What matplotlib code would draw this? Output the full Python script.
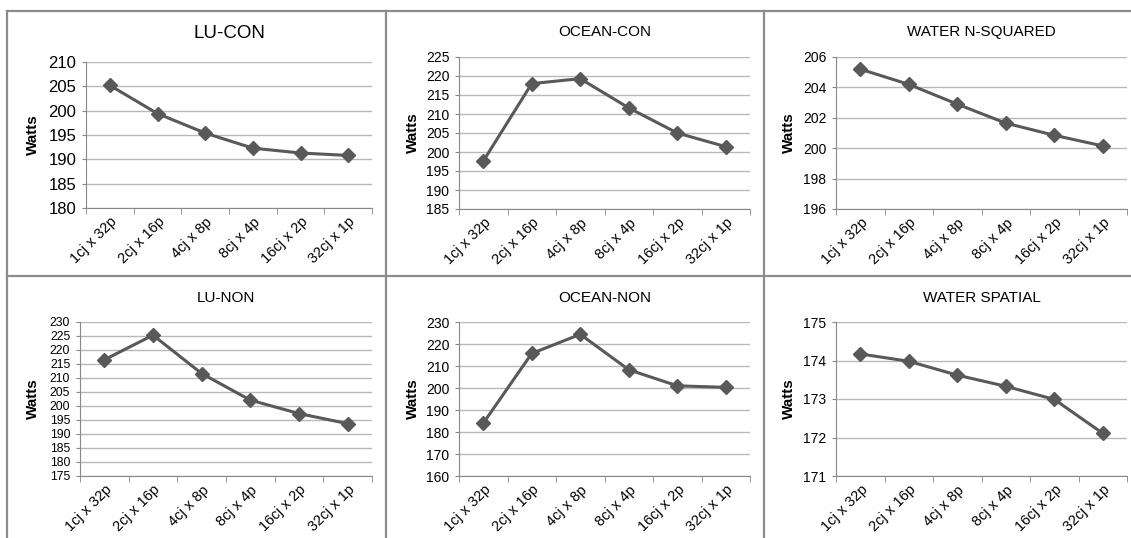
import matplotlib.pyplot as plt
from matplotlib.lines import Line2D

plt.rcParams['font.family'] = ['Liberation Sans', 'DejaVu Sans']

configs = ['1cj x 32p', '2cj x 16p', '4cj x 8p', '8cj x 4p', '16cj x 2p', '32cj x 1p']

lu_con = [205.2, 199.4, 195.4, 192.3, 191.3, 190.8]
ocean_con = [197.6, 218.0, 219.3, 211.6, 205.0, 201.4]
water_nsq = [205.2, 204.2, 202.9, 201.65, 200.85, 200.15]
lu_non = [216.5, 225.3, 211.6, 202.1, 197.3, 193.7]
ocean_non = [184.0, 215.7, 224.4, 208.3, 201.0, 200.3]
water_spatial = [174.17, 173.98, 173.62, 173.33, 172.99, 172.11]

W, H = 1131, 538
fig = plt.figure(figsize=(W / 100, H / 100), dpi=100)

# title, values, ylim, step, axes box px (left, top, right, bottom), tick fs, title fs, title y, label x
panels = [
    ('LU-CON', lu_con, (180, 210), 5, (86, 62, 372, 208), 12, 13.5, 33, 33),
    ('OCEAN-CON', ocean_con, (185, 225), 5, (459, 57, 750, 209), 10, 11, 32, 413),
    ('WATER N-SQUARED', water_nsq, (196, 206), 2, (836, 57, 1127, 209), 10, 11, 32, 789),
    ('LU-NON', lu_non, (175, 230), 5, (80, 322, 372, 476), 8.8, 11, 298, 33),
    ('OCEAN-NON', ocean_non, (160, 230), 10, (459, 322, 750, 476), 10, 11, 298, 413),
    ('WATER SPATIAL', water_spatial, (171, 175), 1, (836, 322, 1127, 476), 10, 11, 298, 789),
]

x = list(range(1, len(configs) + 1))

for title, vals, ylim, step, box, tfs, titfs, ty, lx in panels:
    l, t, r, b = box
    ax = fig.add_axes([l / W, 1 - b / H, (r - l) / W, (b - t) / H])
    ax.plot(x, vals, color='#595959', lw=2.2, marker='D', ms=7.5, zorder=3)
    ax.set_xlim(0.5, len(configs) + 0.5)
    ax.set_ylim(*ylim)
    yt = list(range(ylim[0], ylim[1] + 1, step))
    ax.set_yticks(yt)
    ax.tick_params(axis='y', length=3, color='#888888', labelsize=tfs, pad=4)
    ax.grid(axis='y', color='#b8b8b8', lw=1)
    ax.set_axisbelow(True)
    ax.set_xticks(x)
    ax.set_xticklabels(configs, rotation=45, ha='right', rotation_mode='anchor', fontsize=10.5)
    ax.tick_params(axis='x', length=0, pad=5)
    ax.set_xticks([i + 0.5 for i in range(len(configs) + 1)], minor=True)
    ax.tick_params(axis='x', which='minor', length=4, color='#888888', direction='out')
    for s in ['top', 'right']:
        ax.spines[s].set_visible(False)
    ax.spines['left'].set_color('#888888')
    ax.spines['bottom'].set_color('#888888')
    fig.text((l + r) / 2 / W, 1 - ty / H, title, fontsize=titfs, ha='center', va='center')
    fig.text(lx / W, 1 - (t + b) / 2 / H, 'Watts', rotation=90, fontsize=11,
             fontweight='bold', ha='center', va='center')

# panel borders
bc = '#8c8c8c'
fig.add_artist(Line2D([7 / W, 1], [1 - 11 / H, 1 - 11 / H], color=bc, lw=1.6))
fig.add_artist(Line2D([7 / W, 1], [1 - 276 / H, 1 - 276 / H], color=bc, lw=1.6))
fig.add_artist(Line2D([7 / W, 7 / W], [0, 1 - 11 / H], color=bc, lw=1.6))
fig.add_artist(Line2D([386 / W, 386 / W], [0, 1 - 11 / H], color=bc, lw=1.6))
fig.add_artist(Line2D([764 / W, 764 / W], [0, 1 - 11 / H], color=bc, lw=1.6))

fig.savefig('out.png', dpi=100)
